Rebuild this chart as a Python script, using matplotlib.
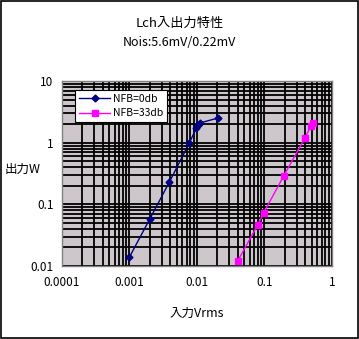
import numpy as np
import matplotlib.pyplot as plt
from matplotlib.patches import Rectangle
from matplotlib.ticker import LogLocator, FixedLocator, FixedFormatter, NullFormatter

plt.rcParams['font.family'] = ['Noto Sans CJK JP', 'DejaVu Sans']

# NFB=0db
x_0db = [0.001, 0.002, 0.0039, 0.0077, 0.0098, 0.0105, 0.0109, 0.0202]
y_0db = [0.014, 0.058, 0.23, 0.99, 1.73, 1.94, 2.08, 2.5]
# NFB=33db
x_33db = [0.040, 0.079, 0.0975, 0.193, 0.397, 0.488, 0.52]
y_33db = [0.012, 0.046, 0.073, 0.29, 1.19, 1.87, 2.1]

xticks = [0.0001, 0.001, 0.01, 0.1, 1]
xtick_labels = ['0.0001', '0.001', '0.01', '0.1', '1']
yticks = [0.01, 0.1, 1, 10]
ytick_labels = ['0.01', '0.1', '1', '10']

fig = plt.figure(figsize=(3.59, 3.39), dpi=100)
fig.patches.append(Rectangle((0.0015, 0.0015), 0.997, 0.997, transform=fig.transFigure,
                             fill=False, edgecolor='black', linewidth=1.2))

ax = fig.add_axes([0.1727, 0.2153, 0.752, 0.5457])
ax.set_facecolor('#cdc7cb')
ax.set_xscale('log')
ax.set_yscale('log')
ax.set_xlim(0.0001, 1)
ax.set_ylim(0.01, 10)

ax.xaxis.set_major_locator(FixedLocator(xticks))
ax.xaxis.set_major_formatter(FixedFormatter(xtick_labels))
ax.yaxis.set_major_locator(FixedLocator(yticks))
ax.yaxis.set_major_formatter(FixedFormatter(ytick_labels))
ax.xaxis.set_minor_locator(LogLocator(base=10, subs=np.arange(2, 10)))
ax.yaxis.set_minor_locator(LogLocator(base=10, subs=np.arange(2, 10)))
ax.xaxis.set_minor_formatter(NullFormatter())
ax.yaxis.set_minor_formatter(NullFormatter())
ax.grid(True, which='both', color='black', linewidth=1.3)
ax.set_axisbelow(True)
ax.tick_params(which='both', length=0, labelsize=8.5)
ax.tick_params(axis='x', pad=7)
ax.tick_params(axis='y', pad=6)

for s in ax.spines.values():
    s.set_color('#808080')
    s.set_linewidth(1)

ax.plot(x_0db, y_0db, color='#000080', marker='D', markersize=3.5, linewidth=1, label='NFB=0db')
ax.plot(x_33db, y_33db, color='#ff00ff', marker='s', markersize=5, linewidth=1, label='NFB=33db')

leg = ax.legend(loc='upper left', bbox_to_anchor=(0.03, 0.98), fontsize=7.5, frameon=True,
                fancybox=False, edgecolor='black', framealpha=1, borderpad=0.35,
                handlelength=3, handletextpad=0.3, labelspacing=0.45)
leg.get_frame().set_linewidth(0.8)

fig.text(0.5, 0.93, 'Lch入出力特性', ha='center', va='center', fontsize=9.5)
fig.text(0.5, 0.875, 'Nois:5.6mV/0.22mV', ha='center', va='center', fontsize=9)
ax.set_xlabel('入力Vrms', fontsize=9, labelpad=13)
fig.text(0.062, 0.5, '出力W', ha='center', va='center', fontsize=9)

fig.savefig('out.png', dpi=100)
